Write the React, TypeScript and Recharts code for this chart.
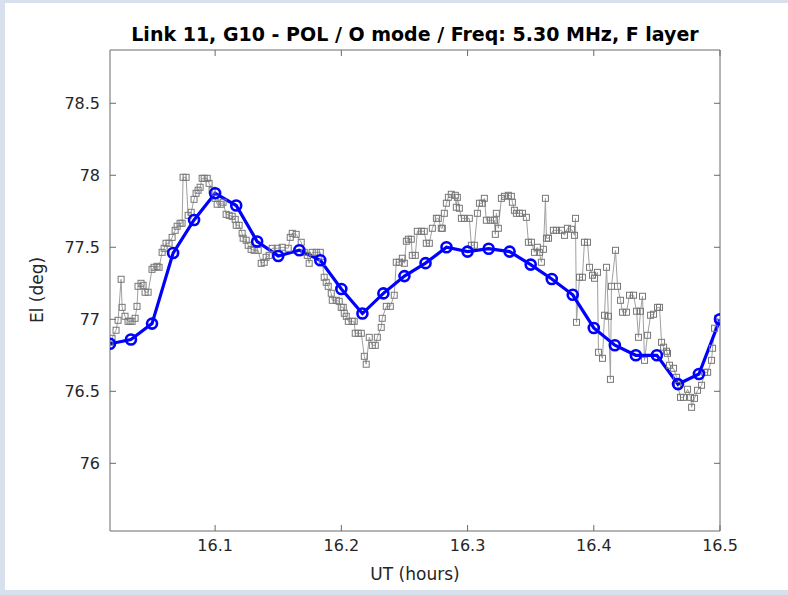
import { LineChart, Line, XAxis, YAxis } from "recharts";

// 1-min fitted points (blue)
const fitTime = [
  16.0167, 16.0333, 16.05, 16.0667, 16.0833, 16.1, 16.1167, 16.1333, 16.15, 16.1667,
  16.1833, 16.2, 16.2167, 16.2333, 16.25, 16.2667, 16.2833, 16.3, 16.3167, 16.3333,
  16.35, 16.3667, 16.3833, 16.4, 16.4167, 16.4333, 16.45, 16.4667, 16.4833, 16.5,
];
const fitEl = [
  76.83, 76.86, 76.97, 77.46, 77.69, 77.875, 77.79, 77.54, 77.44, 77.48,
  77.41, 77.21, 77.04, 77.18, 77.3, 77.39, 77.5, 77.47, 77.49, 77.47,
  77.38, 77.28, 77.17, 76.94, 76.82, 76.75, 76.75, 76.55, 76.62, 77.0,
];

// raw soundings (grey squares)
const rawTime = [
  16.0167, 16.0183, 16.0215, 16.0231, 16.0255, 16.0263, 16.0286, 16.031, 16.0326, 16.0342,
  16.0366, 16.0381, 16.0389, 16.0413, 16.0429, 16.0445, 16.0469, 16.05, 16.0516, 16.054,
  16.0556, 16.058, 16.0596, 16.0611, 16.0635, 16.0659, 16.0683, 16.0699, 16.0722, 16.0738,
  16.0746, 16.077, 16.0786, 16.081, 16.0833, 16.0849, 16.0865, 16.0881, 16.0897, 16.0913,
  16.0937, 16.0952, 16.0976, 16.1, 16.1016, 16.1048, 16.1063, 16.1087, 16.1111, 16.1135,
  16.1159, 16.1167, 16.119, 16.1214, 16.1222, 16.1246, 16.1262, 16.1285, 16.1309, 16.1341,
  16.1365, 16.1389, 16.1404, 16.1428, 16.1452, 16.1492, 16.1531, 16.1579, 16.1595, 16.1611,
  16.1642, 16.1682, 16.1706, 16.173, 16.1745, 16.1769, 16.1801, 16.1833, 16.1849, 16.1864,
  16.188, 16.1896, 16.192, 16.1928, 16.196, 16.1983, 16.1999, 16.2015, 16.2023, 16.2039,
  16.2055, 16.2086, 16.2102, 16.211, 16.2134, 16.2158, 16.2182, 16.2197, 16.2221, 16.2245,
  16.2269, 16.2285, 16.2316, 16.2324, 16.2356, 16.2388, 16.2419, 16.2435, 16.2459, 16.2483,
  16.2499, 16.2515, 16.2531, 16.2554, 16.2562, 16.2586, 16.2602, 16.2634, 16.2657, 16.2673,
  16.2697, 16.2721, 16.2753, 16.2768, 16.2792, 16.28, 16.2816, 16.2832, 16.2848, 16.2871,
  16.2903, 16.2911, 16.2919, 16.2935, 16.2951, 16.2975, 16.3014, 16.303, 16.3054, 16.3078,
  16.3094, 16.3117, 16.3133, 16.3149, 16.3181, 16.3212, 16.322, 16.3228, 16.3244, 16.3268,
  16.3292, 16.3323, 16.3347, 16.3355, 16.3371, 16.3387, 16.3411, 16.3435, 16.3466, 16.3482,
  16.3506, 16.353, 16.3553, 16.3569, 16.3585, 16.3601, 16.3617, 16.3625, 16.3641, 16.368,
  16.3704, 16.3744, 16.3768, 16.3791, 16.3823, 16.3847, 16.3855, 16.3863, 16.3887, 16.391,
  16.3926, 16.395, 16.3966, 16.399, 16.4006, 16.4029, 16.4037, 16.4069, 16.4085, 16.4101,
  16.4116, 16.4132, 16.414, 16.4172, 16.4188, 16.4212, 16.4228, 16.4259, 16.4283, 16.4315,
  16.4339, 16.4354, 16.437, 16.4386, 16.4402, 16.4426, 16.445, 16.4473, 16.4505, 16.4521,
  16.4537, 16.4553, 16.4576, 16.4584, 16.46, 16.4632, 16.4656, 16.4664, 16.4687, 16.4711,
  16.4743, 16.4767, 16.4775, 16.4798, 16.4822, 16.4854, 16.4878, 16.4902, 16.4933, 16.4941,
  16.4957, 16.4981,
];
const rawEl = [
  76.84, 76.868, 76.924, 76.993, 77.278, 77.083, 77.021, 76.986, 76.986, 76.986,
  77.007, 77.09, 77.229, 77.25, 77.236, 77.188, 77.188, 77.347, 77.361, 77.368,
  77.361, 77.465, 77.493, 77.528, 77.528, 77.569, 77.618, 77.646, 77.667, 77.667,
  77.986, 77.986, 77.722, 77.743, 77.833, 77.875, 77.896, 77.917, 77.979, 77.979,
  77.979, 77.944, 77.896, 77.84, 77.799, 77.799, 77.813, 77.729, 77.722, 77.715,
  77.694, 77.653, 77.653, 77.597, 77.563, 77.549, 77.514, 77.486, 77.479, 77.479,
  77.389, 77.396, 77.431, 77.444, 77.493, 77.493, 77.5, 77.493, 77.569, 77.597,
  77.59, 77.535, 77.465, 77.444, 77.389, 77.465, 77.465, 77.465, 77.396, 77.292,
  77.257, 77.229, 77.181, 77.132, 77.132, 77.125, 77.083, 77.083, 77.042, 77.021,
  76.986, 76.986, 76.986, 76.903, 76.903, 76.903, 76.743, 76.688, 76.875, 76.819,
  76.819, 76.875, 76.944, 77.007, 77.09, 77.09, 77.167, 77.396, 77.396, 77.424,
  77.389, 77.542, 77.556, 77.556, 77.444, 77.444, 77.611, 77.611, 77.611, 77.528,
  77.528, 77.632, 77.701, 77.701, 77.632, 77.632, 77.736, 77.806, 77.847, 77.868,
  77.861, 77.778, 77.847, 77.771, 77.701, 77.701, 77.701, 77.514, 77.514, 77.736,
  77.806, 77.806, 77.84, 77.688, 77.688, 77.688, 77.59, 77.736, 77.632, 77.84,
  77.854, 77.861, 77.854, 77.813, 77.757, 77.736, 77.736, 77.736, 77.708, 77.535,
  77.535, 77.465, 77.5, 77.465, 77.396, 77.486, 77.84, 77.563, 77.563, 77.618,
  77.618, 77.618, 77.583, 77.632, 77.625, 77.583, 77.701, 76.979, 77.292, 77.292,
  77.535, 77.535, 77.361, 77.306, 77.285, 77.326, 76.771, 76.729, 77.028, 77.361,
  77.021, 76.583, 77.229, 77.479, 77.229, 77.132, 77.049, 77.049, 77.167, 77.167,
  77.056, 76.875, 77.056, 77.16, 76.715, 76.889, 77.028, 77.035, 77.083, 77.083,
  76.84, 76.806, 76.778, 76.764, 76.681, 76.66, 76.597, 76.542, 76.458, 76.458,
  76.514, 76.458, 76.389, 76.451, 76.507, 76.542, 76.632, 76.632, 76.715, 76.799,
  76.938, 77.007,
];

const xTicks = [16.1, 16.2, 16.3, 16.4, 16.5];
const yTicks = [76, 76.5, 77, 77.5, 78, 78.5];
const xDomain = [16.0167, 16.5];
const yDomain = [75.53, 78.87];

const fitData = fitTime.map((t, i) => ({ t, el: fitEl[i] }));
const rawData = rawTime.map((t, i) => ({ t, el: rawEl[i] }));

const FONT = "DejaVu Sans";
const AXIS = "#6a6a6a";
const TEXT = "#262626";

function Square(props: any) {
  const { cx, cy, index } = props;
  if (cx == null || cy == null) return <g key={`sq-${index}`} />;
  return (
    <rect key={`sq-${index}`} x={cx - 3} y={cy - 3} width={6} height={6}
      fill="none" stroke="#777777" strokeWidth={1} />
  );
}

function Ring(props: any) {
  const { cx, cy, index } = props;
  if (cx == null || cy == null) return <g key={`rg-${index}`} />;
  return <circle key={`rg-${index}`} cx={cx} cy={cy} r={5} fill="none" stroke="#0000ff" strokeWidth={2.6} />;
}

export default function App() {
  return (
    <div style={{ position: "absolute", left: 0, top: 0, width: 788, height: 595, background: "#d8e0ee", fontFamily: FONT, overflow: "hidden" }}>
      <div style={{ position: "absolute", left: 5, top: 3, width: 783, height: 587, background: "#ffffff" }} />
      <div style={{ position: "absolute", left: 110, top: 23, width: 610, textAlign: "center", fontSize: 19, fontWeight: "bold", color: "#000", whiteSpace: "nowrap" }}>
        Link 11, G10 - POL / O mode / Freq: 5.30 MHz, F layer
      </div>
      <div style={{ position: "absolute", left: 110, top: 564, width: 610, textAlign: "center", fontSize: 17, color: TEXT }}>
        UT (hours)
      </div>
      <div style={{ position: "absolute", left: 37, top: 290, transform: "translate(-50%, -50%) rotate(-90deg)", fontSize: 17, color: TEXT, whiteSpace: "nowrap" }}>
        El (deg)
      </div>
      <div style={{ position: "absolute", left: 0, top: 0 }}>
        <LineChart width={788} height={595} margin={{ top: 49, right: 67, bottom: 34, left: 50 }}>
          <XAxis xAxisId="b" dataKey="t" type="number" domain={xDomain} ticks={xTicks} allowDataOverflow
            height={30} tickSize={-6} tickMargin={15} stroke={AXIS}
            tick={{ fill: TEXT, fontSize: 16, fontFamily: FONT }} tickFormatter={(v: number) => v.toFixed(1)} />
          <XAxis xAxisId="top" orientation="top" dataKey="t" type="number" domain={xDomain} ticks={xTicks} allowDataOverflow
            height={1} tickSize={-6} stroke={AXIS} tickFormatter={() => ""} />
          <YAxis yAxisId="l" dataKey="el" type="number" domain={yDomain} ticks={yTicks} allowDataOverflow
            width={60} tickSize={-6} tickMargin={16} stroke={AXIS}
            tick={{ fill: TEXT, fontSize: 16, fontFamily: FONT }} tickFormatter={(v: number) => String(v)} />
          <YAxis yAxisId="r" orientation="right" dataKey="el" type="number" domain={yDomain} ticks={yTicks} allowDataOverflow
            width={1} tickSize={-6} stroke={AXIS} tickFormatter={() => ""} />
          {/* invisible series so the top/right box axes get drawn */}
          <Line xAxisId="top" yAxisId="r" data={fitData} dataKey="el" stroke="none" dot={false}
            activeDot={false} isAnimationActive={false} />
          <Line xAxisId="b" yAxisId="l" data={rawData} dataKey="el" type="linear" stroke="#a0a0a0" strokeWidth={1}
            dot={Square} activeDot={false} isAnimationActive={false} />
          <Line xAxisId="b" yAxisId="l" data={fitData} dataKey="el" type="linear" stroke="#0000ff" strokeWidth={3.2}
            dot={Ring} activeDot={false} isAnimationActive={false} />
        </LineChart>
      </div>
    </div>
  );
}
